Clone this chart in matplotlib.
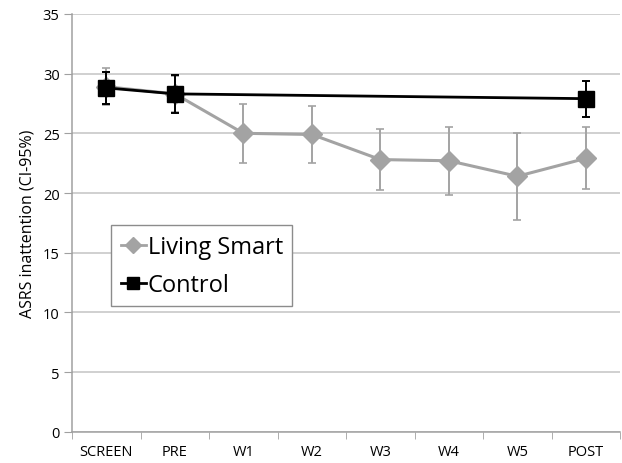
import numpy as np
import matplotlib.pyplot as plt
from matplotlib.lines import Line2D

categories = ['SCREEN', 'PRE', 'W1', 'W2', 'W3', 'W4', 'W5', 'POST']
ls_mean = [28.9, 28.3, 25.0, 24.9, 22.8, 22.7, 21.4, 22.9]
ls_err = [1.55, 1.5, 2.45, 2.35, 2.55, 2.85, 3.65, 2.6]
ctrl_cats = ['SCREEN', 'PRE', 'POST']
ctrl_mean = [28.8, 28.3, 27.9]
ctrl_err = [1.32, 1.6, 1.5]

plt.rcParams['font.family'] = ['Open Sans', 'DejaVu Sans']

fig = plt.figure(figsize=(6.22, 4.64), dpi=100)
ax = fig.add_axes([0.116, 0.067, 0.881, 0.901])

x = np.arange(len(categories))
cx = [categories.index(c) for c in ctrl_cats]

ax.errorbar(x, ls_mean, yerr=ls_err, color='#a3a3a3', lw=2.2, marker='D', ms=10,
            elinewidth=1.4, capsize=3, capthick=1.2, zorder=3)
ax.errorbar(cx, ctrl_mean, yerr=ctrl_err, color='black', lw=2.0, marker='s', ms=11,
            elinewidth=1.4, capsize=3, capthick=1.4, zorder=4)

ax.set_xlim(-0.5, len(categories) - 0.5)
ax.set_ylim(0, 35)
ax.set_yticks(range(0, 36, 5))
ax.set_xticks(x)
ax.set_xticklabels(categories, fontsize=10.5)
ax.set_xticks(np.arange(-0.5, len(categories)), minor=True)
ax.tick_params(axis='x', which='major', length=0, pad=9)
ax.tick_params(axis='x', which='minor', length=5, color='#a0a0a0')
ax.tick_params(axis='y', length=6, color='#a0a0a0', labelsize=10.5, pad=3)
ax.yaxis.grid(True, color='#c4c4c4', lw=1.1)
ax.set_axisbelow(True)
for s in ['top', 'right']:
    ax.spines[s].set_visible(False)
for s in ['left', 'bottom']:
    ax.spines[s].set_color('#a0a0a0')
    ax.spines[s].set_linewidth(1.1)
ax.set_ylabel('ASRS inattention (CI-95%)', fontsize=11.5, labelpad=5)

handles = [
    Line2D([], [], color='#a3a3a3', lw=2, marker='D', ms=8),
    Line2D([], [], color='black', lw=2, marker='s', ms=8),
]
leg = ax.legend(handles, ['Living Smart', 'Control'], loc='upper left',
                bbox_to_anchor=(0.071, 0.494), fontsize=17,
                fancybox=False, framealpha=1, edgecolor='#8c8c8c',
                handlelength=1.1, handletextpad=0.05, borderpad=0.4,
                labelspacing=0.6, borderaxespad=0)
leg.get_frame().set_linewidth(1.0)

fig.savefig('out.png', dpi=100)
